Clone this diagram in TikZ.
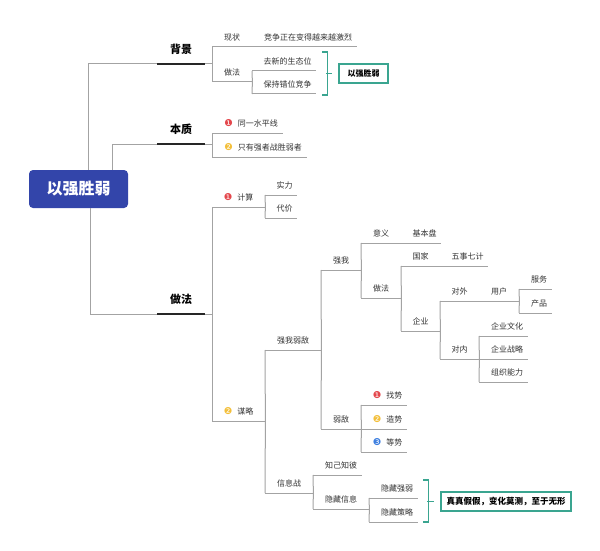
\documentclass[tikz,border=0pt]{standalone}
\usepackage{fontspec}
\setmainfont{Noto Sans CJK SC}
\newfontfamily\dingfont{DejaVu Sans}
\definecolor{rootblue}{HTML}{3345AA}
\definecolor{linegray}{HTML}{A3A3A3}
\definecolor{txt}{HTML}{333333}
\definecolor{teal2}{HTML}{3AA590}
\definecolor{numred}{HTML}{E4474C}
\definecolor{numyel}{HTML}{F3BF3A}
\definecolor{numblu}{HTML}{3D7FE0}
\newcommand\circnum[2]{{\dingfont\fontsize{9.5}{9.5}\selectfont\textcolor{#1}{#2}}\hspace{5pt}}
\begin{document}
\begin{tikzpicture}[x=1pt,y=-1pt,
  conn/.style={draw=linegray,line width=1pt},
  heavy/.style={draw=black!85,line width=2.5pt},
  brace/.style={draw=teal2,line width=1.3pt},
  topic/.style={anchor=south west,inner xsep=0pt,inner ysep=6pt,text depth=0pt,minimum height=0pt,text=txt,font=\fontsize{8}{8}\selectfont},
  leaf/.style={topic,execute at begin node={\hspace*{7pt}}},
  head/.style={anchor=south west,inner xsep=0pt,inner ysep=10pt,text depth=0pt,minimum width=48pt,text=black,font=\bfseries\fontsize{11}{11}\selectfont},
  summ/.style={draw=teal2,line width=1.3pt,inner sep=0pt,minimum height=19pt,text=black,font=\bfseries\fontsize{8}{8}\selectfont}
]
\fill[white] (0,0) rectangle (600,551);
\useasboundingbox (0,0) rectangle (600,551);

\node[fill=rootblue,rounded corners=4pt,minimum width=99pt,minimum height=38pt,inner sep=0pt,text=white,font=\bfseries\fontsize{16}{16}\selectfont] (root) at (78.5,189) {以强胜弱};

\node[head] (bg) at (157,64) {背景};
\node[head] (bz) at (157,144) {本质};
\node[head] (zf) at (157,314) {做法};

\node[topic,minimum width=40pt] (xz) at (212,47) {现状};
\node[leaf,minimum width=105pt] (jz) at (252,47) {竞争正在变得越来越激烈};
\node[topic,minimum width=40pt] (zf1) at (212,82) {做法};
\node[leaf,minimum width=64pt] (qx) at (252,71) {去新的生态位};
\node[leaf,minimum width=64pt] (bc) at (252,94) {保持错位竞争};
\node[summ,minimum width=49pt] (s1) at (363.5,73.5) {以强胜弱};

\node[leaf,minimum width=71pt] (t1) at (212,133) {\circnum{numred}{❶}同一水平线};
\node[leaf,minimum width=95pt] (t2) at (212,157) {\circnum{numyel}{❷}只有强者战胜弱者};

\node[topic,minimum width=53pt] (js) at (212,207) {\circnum{numred}{❶}计算};
\node[leaf,minimum width=32pt] (sl) at (265,195) {实力};
\node[leaf,minimum width=32pt] (dj) at (265,218) {代价};
\node[topic,minimum width=53pt] (ml) at (212,421) {\circnum{numyel}{❷}谋略};
\node[topic,minimum width=56pt] (qw) at (265,350) {强我弱敌};
\node[topic,minimum width=40pt] (qwo) at (321,270) {强我};
\node[topic,minimum width=40pt] (yy) at (361,243) {意义};
\node[leaf,minimum width=40pt] (jbp) at (401,243) {基本盘};
\node[topic,minimum width=40pt] (zf2) at (361,298) {做法};
\node[topic,minimum width=39pt] (gj) at (401,266) {国家};
\node[leaf,minimum width=48pt] (wsqj) at (440,266) {五事七计};
\node[topic,minimum width=39pt] (qy) at (401,331) {企业};
\node[topic,minimum width=39pt] (dw) at (440,301) {对外};
\node[topic,minimum width=40pt] (yh) at (479,301) {用户};
\node[leaf,minimum width=33pt] (fw) at (519,289) {服务};
\node[leaf,minimum width=33pt] (cp) at (519,313) {产品};
\node[topic,minimum width=39pt] (dn) at (440,359) {对内};
\node[leaf,minimum width=49pt] (wh) at (479,336) {企业文化};
\node[leaf,minimum width=49pt] (zl) at (479,359) {企业战略};
\node[leaf,minimum width=49pt] (nl) at (479,382) {组织能力};
\node[topic,minimum width=40pt] (rd) at (321,429) {弱敌};
\node[leaf,minimum width=46pt] (zs) at (361,405) {\circnum{numred}{❶}找势};
\node[leaf,minimum width=46pt] (zs2) at (361,429) {\circnum{numyel}{❷}造势};
\node[leaf,minimum width=46pt] (ds) at (361,452) {\circnum{numblu}{❸}等势};
\node[topic,minimum width=48pt] (xxz) at (265,493) {信息战};
\node[leaf,minimum width=49pt] (zj) at (313,475) {知己知彼};
\node[topic,minimum width=56pt] (ycxx) at (313,509) {隐藏信息};
\node[leaf,minimum width=49pt] (ycqr) at (369,498) {隐藏强弱};
\node[leaf,minimum width=49pt] (yccl) at (369,522) {隐藏策略};
\node[summ,minimum width=130pt,font=\bfseries\fontsize{8.5}{8.5}\selectfont] (s2) at (506,501.5) {真真假假，变化莫测，至于无形};

\foreach \n in {xz,jz,zf1,qx,bc,t1,t2,js,sl,dj,ml,qw,qwo,yy,jbp,zf2,gj,wsqj,qy,dw,yh,fw,cp,dn,wh,zl,nl,rd,zs,zs2,ds,xxz,zj,ycxx,ycqr,yccl}
  \draw[conn] (\n.south west) -- (\n.south east);
\foreach \n in {bg,bz,zf}
  \draw[heavy] (\n.south west) -- (\n.south east);

\draw[conn] ([xshift=9.5pt]root.north) |- (bg.south west);
\draw[conn] ([xshift=33.5pt]root.north) |- (bz.south west);
\draw[conn] ([xshift=11.5pt]root.south) |- (zf.south west);

\foreach \c in {xz,zf1} \draw[conn] (bg.south east) -| (\c.south west);
\foreach \c in {t1,t2} \draw[conn] (bz.south east) -| (\c.south west);
\foreach \c in {js,ml} \draw[conn] (zf.south east) -| (\c.south west);

\foreach \p/\c in {zf1/qx,zf1/bc,js/sl,js/dj,ml/qw,ml/xxz,qw/qwo,qw/rd,qwo/yy,qwo/zf2,zf2/gj,zf2/qy,qy/dw,qy/dn,yh/fw,yh/cp,dn/wh,dn/nl,rd/zs,rd/ds,xxz/zj,xxz/ycxx,ycxx/ycqr,ycxx/yccl}
  \draw[conn] (\p.south east) -- (\c.south west);

\draw[brace] ([xshift=6pt,yshift=19pt]qx.south east) -| ([xshift=11pt,yshift=-1pt]bc.south east) -- ([xshift=6pt,yshift=-1pt]bc.south east);
\draw[brace] ([xshift=-12pt]s1.west) -- ([xshift=-6pt]s1.west);
\draw[brace] ([xshift=5pt,yshift=18pt]ycqr.south east) -| ([xshift=10pt]yccl.south east) -- ([xshift=5pt]yccl.south east);
\draw[brace] ([xshift=-13pt]s2.west) -- ([xshift=-6pt]s2.west);
\end{tikzpicture}
\end{document}
